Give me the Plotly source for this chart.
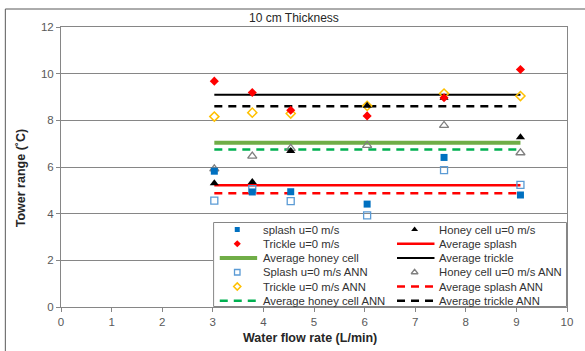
import plotly.graph_objects as go

# ---------------- data ----------------
flow = [3.03, 3.78, 4.54, 6.05, 7.57, 9.08]
splash = [5.82, 4.93, 4.94, 4.41, 6.41, 4.80]
honey = [5.30, 5.36, 6.69, 8.62, 8.97, 7.27]
trickle = [9.68, 9.19, 8.43, 8.19, 8.97, 10.18]
splash_ann = [4.56, 5.05, 4.54, 3.93, 5.87, 5.23]
honey_ann = [5.92, 6.47, 6.80, 6.93, 7.78, 6.61]
trickle_ann = [8.16, 8.33, 8.29, 8.62, 9.15, 9.04]

avg_splash = 5.22
avg_honey = 7.04
avg_trickle = 9.10
avg_splash_ann = 4.87
avg_honey_ann = 6.75
avg_trickle_ann = 8.60

x_ticks = [0, 1, 2, 3, 4, 5, 6, 7, 8, 9, 10]
y_ticks = [0, 2, 4, 6, 8, 10, 12]

# ---------------- styles ----------------
W, H = 585, 351
ML, MR, MT, MB = 61, 15, 27, 44
PW = W - ML - MR
PH = H - MT - MB


def px_x(p):
    return (p - ML) / PW


def px_y(p):
    return (H - MB - p) / PH


series = [
    # (name, kind, values, style)
    ("splash u=0 m/s", "m", splash, dict(symbol="square", color="#0070C0", size=7, lw=0, lsize=5)),
    ("Honey cell u=0 m/s", "m", honey, dict(symbol="triangle-up", color="#000000", size=8, lw=0, lsize=6)),
    ("Trickle u=0 m/s", "m", trickle, dict(symbol="diamond", color="#FF0000", size=7, lw=0, lsize=5.5)),
    ("Average splash", "l", avg_splash, dict(color="#FF0000", width=2.5, dash="solid")),
    ("Average honey cell", "l", avg_honey, dict(color="#70AD47", width=4, dash="solid")),
    ("Average trickle", "l", avg_trickle, dict(color="#000000", width=2, dash="solid")),
    ("Splash u=0 m/s ANN", "m", splash_ann, dict(symbol="square-open", color="#5B9BD5", size=7, lw=1.3, lsize=5.5)),
    ("Honey cell u=0 m/s ANN", "m", honey_ann, dict(symbol="triangle-up-open", color="#7F7F7F", size=8, lw=1.3, lsize=6)),
    ("Trickle u=0 m/s ANN", "m", trickle_ann, dict(symbol="diamond-open", color="#FFC000", size=7, lw=1.5, lsize=5.5)),
    ("Average splash ANN", "l", avg_splash_ann, dict(color="#FF0000", width=2.5, dash="8px,6px")),
    ("Average honey cell ANN", "l", avg_honey_ann, dict(color="#00B050", width=2.5, dash="8px,6px")),
    ("Average trickle ANN", "l", avg_trickle_ann, dict(color="#000000", width=2.5, dash="8px,6px")),
]

fig = go.Figure()

# main plot: lines first, then markers
for name, kind, vals, st in series:
    if kind == "l":
        fig.add_trace(go.Scatter(
            x=[flow[0], flow[-1]], y=[vals, vals], mode="lines", name=name,
            line=dict(color=st["color"], width=st["width"], dash=st["dash"]),
            showlegend=False, hoverinfo="skip"))
for i in [6, 7, 8, 0, 1, 2]:
    name, kind, vals, st = series[i]
    fig.add_trace(go.Scatter(
        x=flow, y=vals, mode="markers", name=name,
        marker=dict(symbol=st["symbol"], color=st["color"], size=st["size"],
                    line=dict(color=st["color"], width=st["lw"])),
        showlegend=False))

# ---------------- hand-made legend (subplot x2/y2) ----------------
LX0, LX1, LY0, LY1 = 214, 570, 222, 307
LW, LH = LX1 - LX0, LY1 - LY0
fig.add_trace(go.Scatter(
    x=[0.5, LW - 0.5, LW - 0.5, 0.5, 0.5], y=[0.5, 0.5, LH - 0.5, LH - 0.5, 0.5],
    xaxis="x2", yaxis="y2", mode="lines", fill="toself", fillcolor="white",
    line=dict(color="#868686", width=1), showlegend=False, hoverinfo="skip",
    cliponaxis=False))

col_marker = [24.3, 202.7]
col_line = [(6.7, 44.3), (185.0, 222.7)]
col_text = [47.7, 225.0]
row_top, row_step = 77.5, 14.25

annotations = []
for k, (name, kind, vals, st) in enumerate(series):
    r, c = divmod(k, 2)
    yy = row_top - r * row_step
    if kind == "m":
        fig.add_trace(go.Scatter(
            x=[col_marker[c]], y=[yy], xaxis="x2", yaxis="y2", mode="markers",
            marker=dict(symbol=st["symbol"], color=st["color"], size=st["lsize"],
                        line=dict(color=st["color"], width=st["lw"])),
            showlegend=False, hoverinfo="skip", cliponaxis=False))
    else:
        fig.add_trace(go.Scatter(
            x=list(col_line[c]), y=[yy, yy], xaxis="x2", yaxis="y2", mode="lines",
            line=dict(color=st["color"], width=st["width"], dash=st["dash"]),
            showlegend=False, hoverinfo="skip", cliponaxis=False))
    annotations.append(dict(
        x=col_text[c], y=yy, xref="x2", yref="y2", text=name, showarrow=False,
        xanchor="left", yanchor="middle",
        font=dict(family="Liberation Sans, Arial", size=11.3, color="#333333")))

# titles
annotations.append(dict(x=px_x(295), y=px_y(18), xref="paper", yref="paper",
                        text="10 cm Thickness", showarrow=False,
                        xanchor="center", yanchor="middle",
                        font=dict(family="Liberation Sans, Arial", size=12, color="#262626")))
annotations.append(dict(x=px_x(21), y=px_y(178), xref="paper", yref="paper",
                        text="<b>Tower range (˚C)</b>", showarrow=False, textangle=-90,
                        xanchor="center", yanchor="middle",
                        font=dict(family="Liberation Sans, Arial", size=12.5, color="#262626")))
annotations.append(dict(x=px_x(311), y=px_y(338), xref="paper", yref="paper",
                        text="<b>Water flow rate (L/min)</b>", showarrow=False,
                        xanchor="center", yanchor="middle",
                        font=dict(family="Liberation Sans, Arial", size=12.5, color="#262626")))

shapes = [dict(type="rect", xref="paper", yref="paper",
               x0=px_x(5), x1=px_x(620), y0=px_y(380), y1=px_y(9),
               line=dict(color="#595959", width=1), fillcolor="rgba(0,0,0,0)",
               layer="below")]

axis_font = dict(family="Liberation Sans, Arial", size=11.5, color="#595959")
fig.update_layout(
    width=W, height=H,
    margin=dict(l=ML, r=MR, t=MT, b=MB),
    paper_bgcolor="white", plot_bgcolor="white",
    showlegend=False,
    annotations=annotations, shapes=shapes,
    xaxis=dict(range=[0, 10], tickvals=x_ticks, ticks="outside", ticklen=4,
               tickcolor="#868686", showgrid=False, zeroline=False,
               showline=True, linecolor="#868686", linewidth=1, mirror=True,
               tickfont=axis_font, fixedrange=True),
    yaxis=dict(range=[0, 12], tickvals=y_ticks, ticks="outside", ticklen=4,
               tickcolor="#868686", showgrid=True, gridcolor="#868686", gridwidth=1,
               zeroline=False, showline=True, linecolor="#868686", linewidth=1,
               mirror=True, tickfont=axis_font, fixedrange=True),
    xaxis2=dict(domain=[px_x(LX0), px_x(LX1)], range=[0, LW], visible=False,
                anchor="y2", fixedrange=True),
    yaxis2=dict(domain=[px_y(LY1), px_y(LY0)], range=[0, LH], visible=False,
                anchor="x2", fixedrange=True),
)

fig.write_html("out.html")
